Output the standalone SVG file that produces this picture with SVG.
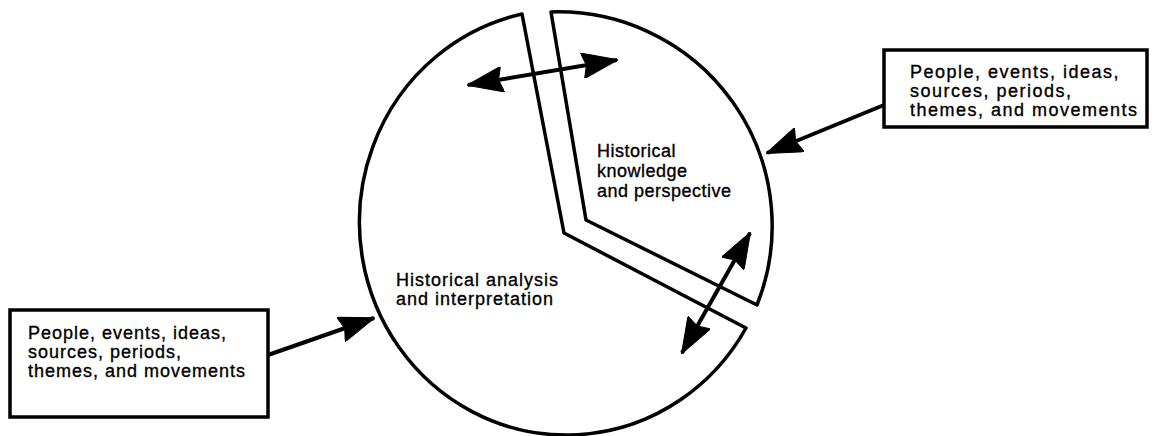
<svg xmlns="http://www.w3.org/2000/svg" width="1154" height="436" viewBox="0 0 1154 436">
<style>
.shape{fill:none;stroke:#000;stroke-width:3.5;stroke-linejoin:round}
.box{fill:#fff;stroke:#000;stroke-width:3.5}
.lbl{font-family:"Liberation Sans",Arial,sans-serif;font-size:18px;letter-spacing:1px;fill:#000;stroke:#000;stroke-width:0.35}
.conn{fill:none;stroke:#000;stroke-width:4}
</style>
<defs>
<marker id="head" markerUnits="userSpaceOnUse" viewBox="0 0 36 26" markerWidth="36" markerHeight="26" refX="35" refY="13" orient="auto-start-reverse">
<path d="M0,0 L36,13 L0,26 L4,13 Z" fill="#000" stroke="#000" stroke-width="1" stroke-linejoin="round"/>
</marker>
</defs>
<rect width="1154" height="436" fill="#fff"/>
<g id="analysis">
<path class="shape" d="M522,14 L564,233 L746,328 A207 213 0 1 1 522,14 Z"/>
<text class="lbl"><tspan x="396" y="286">Historical analysis</tspan><tspan x="396" y="305">and interpretation</tspan></text>
</g>
<g id="knowledge">
<path class="shape" d="M551,12 L586,220 L757,305 A214 214 0 0 0 551,12 Z"/>
<text class="lbl" style="letter-spacing:0.5px"><tspan x="597" y="157">Historical</tspan><tspan x="597" y="177">knowledge</tspan><tspan x="597" y="197">and perspective</tspan></text>
</g>
<g id="box-left">
<rect class="box" x="10" y="310" width="258" height="107"/>
<text class="lbl"><tspan x="28" y="339">People, events, ideas,</tspan><tspan x="28" y="358">sources, periods,</tspan><tspan x="28" y="377">themes, and movements</tspan></text>
</g>
<g id="box-right">
<rect class="box" x="884" y="50" width="263" height="77"/>
<text class="lbl" style="letter-spacing:1.5px"><tspan x="910" y="78">People, events, ideas,</tspan><tspan x="910" y="97">sources, periods,</tspan><tspan x="910" y="116">themes, and movements</tspan></text>
</g>
<g id="connectors">
<line class="conn" x1="468" y1="85" x2="617" y2="60" marker-start="url(#head)" marker-end="url(#head)"/>
<line class="conn" x1="750" y1="233" x2="682" y2="353" marker-start="url(#head)" marker-end="url(#head)"/>
<line class="conn" x1="884" y1="105" x2="767" y2="153" marker-end="url(#head)"/>
<line class="conn" x1="268" y1="355" x2="374" y2="318" marker-end="url(#head)"/>
</g>
</svg>
